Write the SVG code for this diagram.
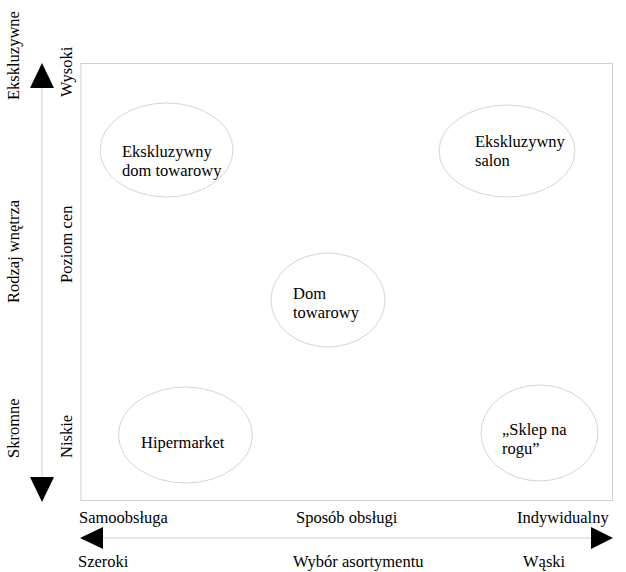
<svg xmlns="http://www.w3.org/2000/svg" width="626" height="572" viewBox="0 0 626 572" font-family="'Liberation Serif', 'Times New Roman', 'DejaVu Serif', serif">
<style>
text{font-family:'Liberation Serif','Times New Roman','DejaVu Serif',serif;font-size:16.5px;fill:#000}
.node ellipse{fill:#fff;stroke:#d4d4d4;stroke-width:1}
.axis{stroke:#d0d0d0;stroke-width:1;fill:none}
.head{fill:#000}
</style>
<rect width="626" height="572" fill="#fff"/>
<rect x="81" y="63.5" width="531.5" height="437" class="axis"/>
<g id="connectors">
<line x1="42" y1="86" x2="42" y2="479" class="axis"/>
<polygon points="42,63 30,88 54,88" class="head"/>
<polygon points="42,502 30,477 54,477" class="head"/>
<line x1="100" y1="538" x2="594" y2="538" class="axis"/>
<polygon points="80,538 103,527 103,549" class="head"/>
<polygon points="613,538 591,527 591,549" class="head"/>
</g>
<g id="axis-labels">
<text transform="translate(18.5,100) rotate(-90)">Ekskluzywne</text>
<text transform="translate(18.5,303) rotate(-90)" font-size="17.5">Rodzaj wnętrza</text>
<text transform="translate(18.5,458) rotate(-90)">Skromne</text>
<text transform="translate(72,97) rotate(-90)">Wysoki</text>
<text transform="translate(72,283) rotate(-90)">Poziom cen</text>
<text transform="translate(72,458) rotate(-90)">Niskie</text>
<text x="79" y="523">Samoobsługa</text>
<text x="296" y="523">Sposób obsługi</text>
<text x="517" y="523">Indywidualny</text>
<text x="78" y="567">Szeroki</text>
<text x="293" y="567">Wybór asortymentu</text>
<text x="523" y="567">Wąski</text>
</g>
<g id="node-eksk-dom" class="node">
<ellipse cx="166.5" cy="150" rx="66.5" ry="47"/>
<text x="122" y="157">Ekskluzywny</text>
<text x="122" y="176">dom towarowy</text>
</g>
<g id="node-eksk-salon" class="node">
<ellipse cx="507" cy="151" rx="68" ry="46"/>
<text x="475" y="147">Ekskluzywny</text>
<text x="475" y="166">salon</text>
</g>
<g id="node-dom" class="node">
<ellipse cx="328" cy="300" rx="57" ry="47"/>
<text x="293" y="299">Dom</text>
<text x="293" y="318">towarowy</text>
</g>
<g id="node-hiper" class="node">
<ellipse cx="185.5" cy="435" rx="67" ry="48"/>
<text x="141" y="448">Hipermarket</text>
</g>
<g id="node-sklep" class="node">
<ellipse cx="539.5" cy="433" rx="58.5" ry="48"/>
<text x="502" y="435">„Sklep na</text>
<text x="502" y="454">rogu”</text>
</g>
</svg>
